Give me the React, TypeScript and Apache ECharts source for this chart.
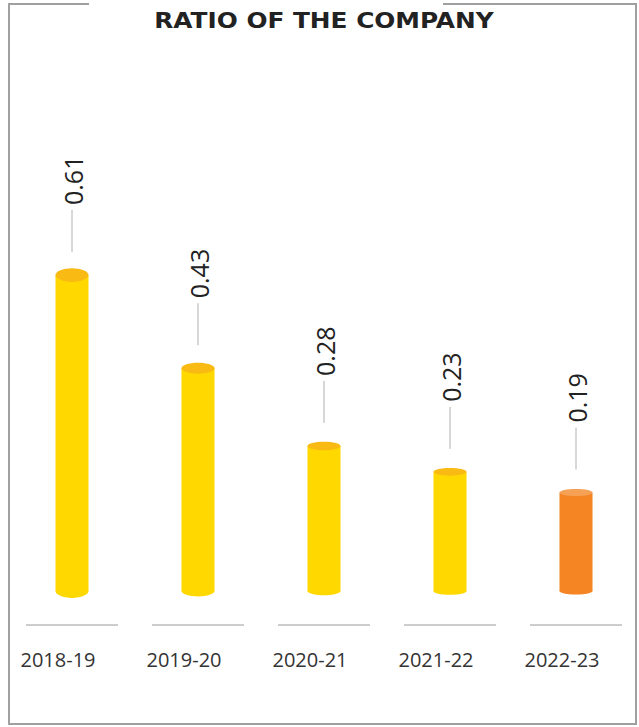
import React, { useEffect, useRef } from "react";
import * as echarts from "echarts";

const titleText = "RATIO OF THE COMPANY";
const categories = ["2018-19", "2019-20", "2020-21", "2021-22", "2022-23"];
const values = [0.61, 0.43, 0.28, 0.23, 0.19];
const highlightIndex = 4;

const BODY = "#FFD800";
const CAP = "#F9BA14";
const BODY_HI = "#F58423";
const CAP_HI = "#F6A256";

export default function App() {
  const ref = useRef<HTMLDivElement>(null);
  useEffect(() => {
    if (!ref.current) return;
    const chart = echarts.init(ref.current, undefined, { renderer: "svg" });
    const renderItem = (params: any, api: any) => {
      const idx = api.value(0);
      const v = api.value(1);
      const top = api.coord([idx, v]);
      const base = api.coord([idx, 0]);
      const bw = 33;
      const eh = 4 + v * 16;
      const hi = idx === highlightIndex;
      const body = hi ? BODY_HI : BODY;
      const cap = hi ? CAP_HI : CAP;
      return {
        type: "group",
        children: [
          {
            type: "line",
            shape: { x1: base[0] - 46, y1: base[1] + 34, x2: base[0] + 46, y2: base[1] + 34 },
            style: { stroke: "#9a9a9a", lineWidth: 1 },
          },
          {
            type: "ellipse",
            shape: { cx: base[0], cy: base[1], rx: bw / 2, ry: eh / 2 },
            style: { fill: body },
          },
          {
            type: "rect",
            shape: { x: top[0] - bw / 2, y: top[1], width: bw, height: base[1] - top[1] },
            style: { fill: body },
          },
          {
            type: "ellipse",
            shape: { cx: top[0], cy: top[1], rx: bw / 2, ry: eh / 2 },
            style: { fill: cap },
          },
          {
            type: "line",
            shape: { x1: top[0], y1: top[1] - 23, x2: top[0], y2: top[1] - 65 },
            style: { stroke: "#b0b0b0", lineWidth: 1 },
          },
          {
            type: "text",
            x: top[0] + 1,
            y: top[1] - 70,
            rotation: Math.PI / 2,
            style: {
              text: v.toFixed(2),
              align: "left",
              verticalAlign: "middle",
              fontSize: 25,
              fontFamily: "Open Sans",
              fill: "#222",
            },
          },
        ],
      };
    };
    chart.setOption({
      animation: false,
      grid: { left: 9, width: 631, top: 73, height: 518 },
      xAxis: {
        type: "category",
        data: categories,
        axisLine: { show: false },
        axisTick: { show: false },
        axisLabel: {
          margin: 58,
          fontSize: 20,
          fontFamily: "Open Sans",
          color: "#333",
          padding: [0, 28, 0, 0],
        },
      },
      yAxis: { type: "value", min: 0, max: 1, show: false },
      graphic: [
        {
          type: "polyline",
          shape: { points: [[89, 4], [9, 4], [9, 724], [636, 724], [636, 4], [443, 4]] },
          style: { stroke: "#a0a0a0", lineWidth: 2, fill: "none" },
        },
        {
          type: "text",
          x: 324,
          y: 21,
          scaleX: 1.18,
          style: {
            text: titleText,
            align: "center",
            verticalAlign: "middle",
            fontSize: 21,
            fontWeight: "bold",
            fontFamily: "DejaVu Sans",
            fill: "#222",
          },
        },
      ],
      series: [
        {
          type: "custom",
          renderItem,
          data: values.map((v, i) => [i, v]),
        },
      ],
    });
    return () => chart.dispose();
  }, []);
  return (
    <div
      ref={ref}
      style={{ position: "fixed", left: 0, top: 0, width: 639, height: 727, background: "#fff" }}
    />
  );
}
